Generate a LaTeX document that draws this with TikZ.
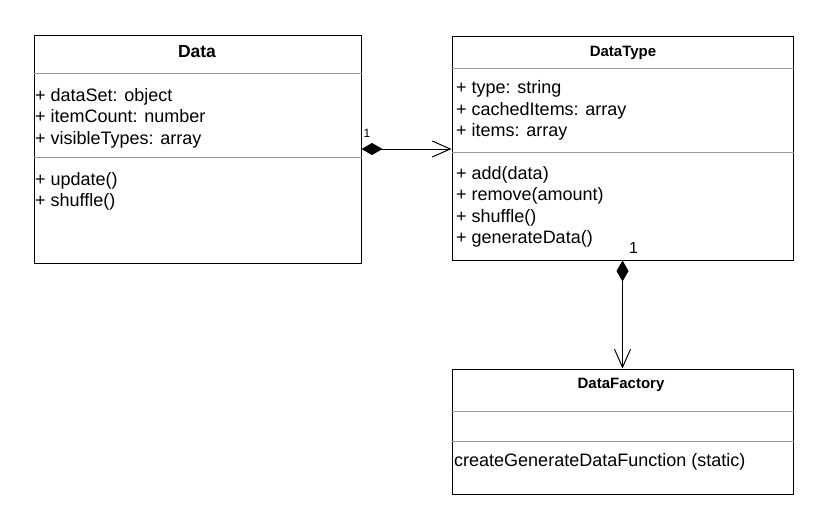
\documentclass[tikz,border=0pt]{standalone}
\usepackage{fontspec}
\setmainfont{Liberation Sans}
\usetikzlibrary{arrows.meta}

\begin{document}
\begin{tikzpicture}[x=1pt,y=-1pt,
		classbox/.style={rectangle, draw, line width=1pt, inner sep=0pt},
		member/.style={anchor=base west, inner sep=0pt, font=\fontsize{18}{20}\selectfont},
		classname/.style={anchor=base, inner sep=0pt, font=\fontsize{15}{17}\selectfont\bfseries},
		divider/.style={draw=black!40, line width=1pt},
		composition/.style={line width=1pt, draw=black, {Diamond[length=21pt,width=12pt]}-{Straight Barb[length=18pt,width=16pt]}}]
		
		\useasboundingbox (0,0) rectangle (821,520);
		
		% Class boxes
		
		\node[classbox, minimum width=327pt, minimum height=228pt]
		(data) at (197.5,149) {};
		\node[classbox, minimum width=341pt, minimum height=224pt]
		(dataType) at (622.5,148) {};
		\node[classbox, minimum width=341pt, minimum height=125pt]
		(dataFactory) at (622.5,431.5) {};
		
		% Dividers
		
		\draw[divider] (data.west |- 0,73) -- (data.east |- 0,73);
		\draw[divider] (data.west |- 0,157) -- (data.east |- 0,157);
		\draw[divider] (dataType.west |- 0,68) -- (dataType.east |- 0,68);
		\draw[divider] (dataType.west |- 0,152) -- (dataType.east |- 0,152);
		\draw[divider] (dataFactory.west |- 0,411) -- (dataFactory.east |- 0,411);
		\draw[divider] (dataFactory.west |- 0,441) -- (dataFactory.east |- 0,441);
		
		% Data
		
		\node[classname, font=\fontsize{17.5}{19}\selectfont\bfseries]
		(dataName) at (197,57.5) {Data};
		\node[member] (dataAttrA) at (35,101) {+ dataSet: object};
		\node[member] (dataAttrB) at (35,122.5) {+ itemCount: number};
		\node[member] (dataAttrC) at (35,144) {+ visibleTypes: array};
		\node[member] (dataOpA) at (35,185) {+ update()};
		\node[member] (dataOpB) at (35,206.5) {+ shuffle()};
		
		% DataType
		
		\node[classname] (dataTypeName) at (623,56) {DataType};
		\node[member] (dataTypeAttrA) at (456,93.5) {+ type: string};
		\node[member] (dataTypeAttrB) at (456,115) {+ cachedItems: array};
		\node[member] (dataTypeAttrC) at (456,136.5) {+ items: array};
		\node[member] (dataTypeOpA) at (456,179) {+ add(data)};
		\node[member] (dataTypeOpB) at (456,200.5) {+ remove(amount)};
		\node[member] (dataTypeOpC) at (456,222) {+ shuffle()};
		\node[member] (dataTypeOpD) at (456,243.5) {+ generateData()};
		
		% DataFactory
		
		\node[classname] (dataFactoryName) at (621,388.5) {DataFactory};
		\node[member] (dataFactoryOpA) at (454,466.5) {createGenerateDataFunction (static)};
		
		% EDGE
		
		\draw[composition] (data.east |- 0,149) -- (dataType.west |- 0,149);
		\draw[composition] (dataType.south) -- (dataFactory.north);
		
		% Multiplicities
		
		\node[inner sep=0pt, font=\fontsize{12}{14}\selectfont]
		(dataMult) at (367,133.5) {1};
		\node[inner sep=0pt, font=\fontsize{16}{18}\selectfont]
		(dataTypeMult) at (633.5,248) {1};
		
	\end{tikzpicture}
\end{document}
